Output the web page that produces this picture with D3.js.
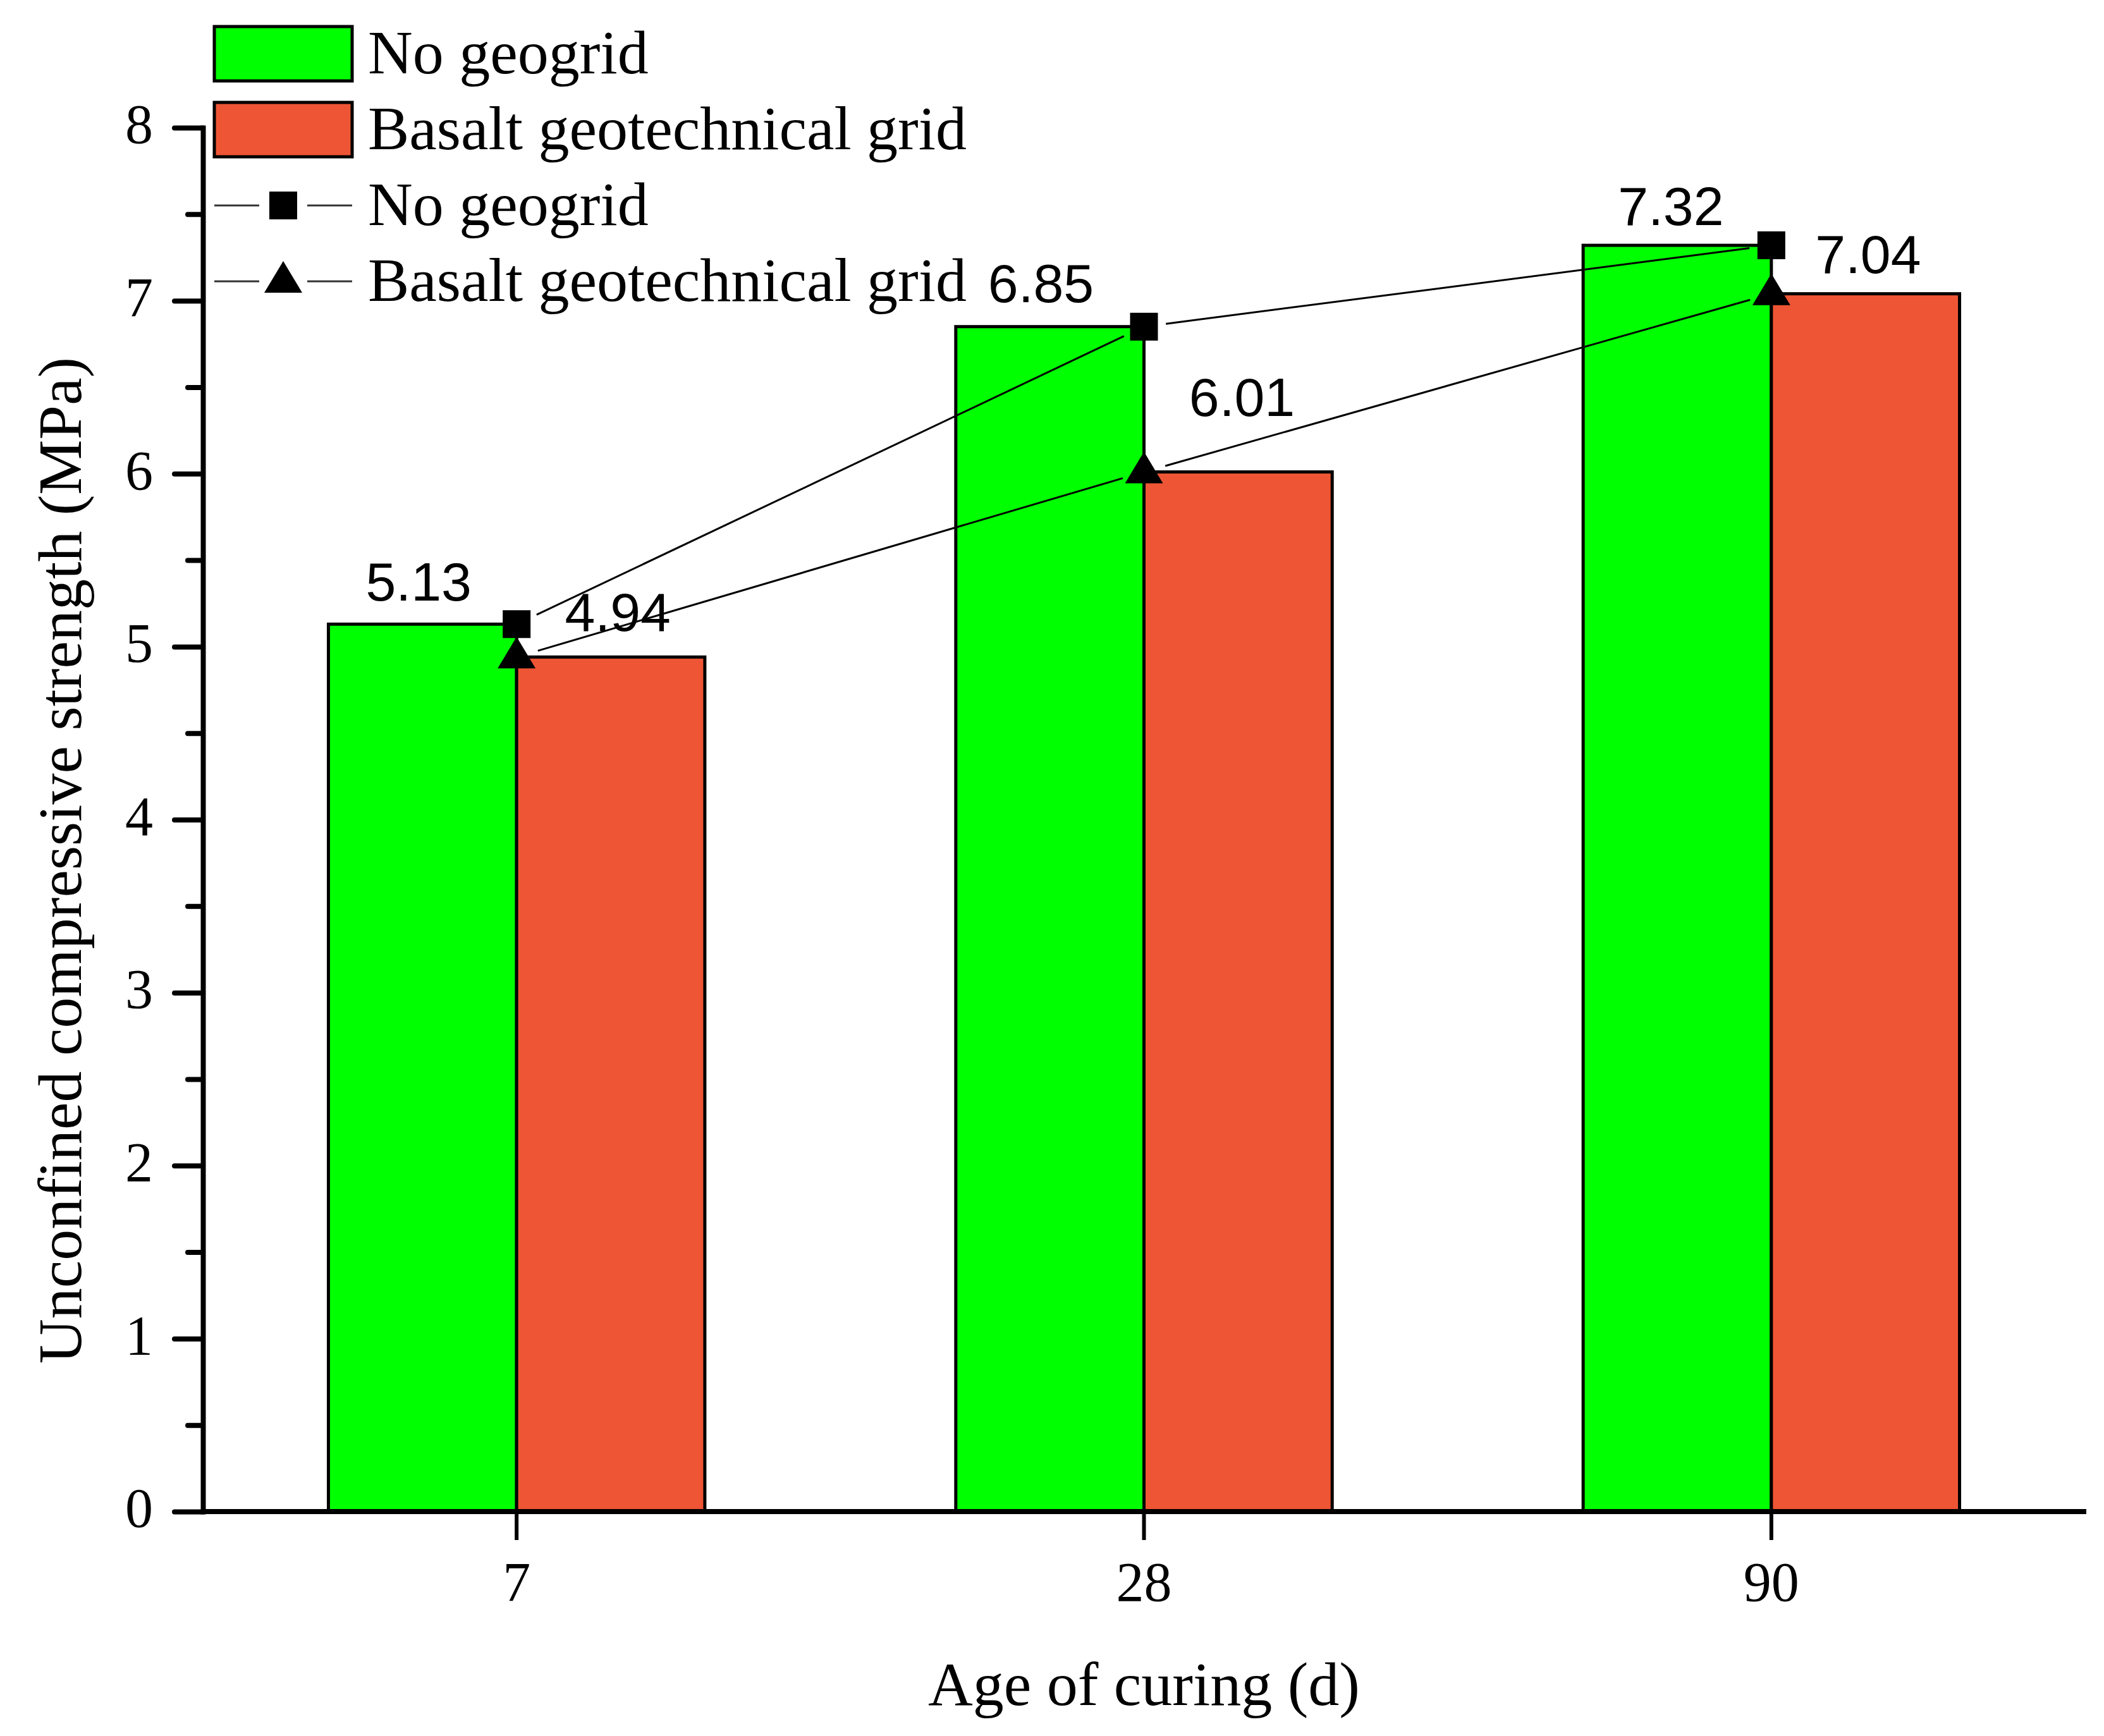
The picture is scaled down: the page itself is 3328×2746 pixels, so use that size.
<!DOCTYPE html>
<html>
<head>
<meta charset="utf-8">
<script src="https://cdn.jsdelivr.net/npm/d3@7"></script>
<style>
  body { margin: 0; background: #fff; }
  svg { display: block; }
</style>
</head>
<body>
<div id="chart"></div>
<script>
// data
var categories = ["7", "28", "90"];
var noGeogrid = [5.13, 6.85, 7.32];
var basaltGrid = [4.94, 6.01, 7.04];
var seriesNames = ["No geogrid", "Basalt geotechnical grid"];
var yMajorTicks = [0, 1, 2, 3, 4, 5, 6, 7, 8];

// label placement relative to the marker (layout only)
var labelShiftNG = [[-155, -37], [-163, -39], [-159, -32]];
var labelShiftBG = [[160, -41], [155, -89], [153, -33]];

var width = 3328, height = 2746;
var green = "#00ff00", red = "#ee5535";
var serif = "'Liberation Serif', 'Times New Roman', serif";
var sans = "'Liberation Sans', Arial, sans-serif";

var svg = d3.select("#chart").append("svg")
    .attr("width", width)
    .attr("height", height)
    .style("background", "#fff");

// scales
var x = d3.scaleBand()
    .domain(categories)
    .range([321, 3298])
    .paddingInner(0.4)
    .paddingOuter(0.2);

var y = d3.scaleLinear()
    .domain([0, 8])
    .range([2391, 202]);

var bw = x.bandwidth() / 2;
function cx(c) { return x(c) + x.bandwidth() / 2; }

// bars
var bars = svg.append("g");
bars.selectAll(".bar-ng")
    .data(categories)
    .enter().append("rect")
      .attr("x", function(d) { return x(d); })
      .attr("y", function(d, i) { return y(noGeogrid[i]); })
      .attr("width", bw)
      .attr("height", function(d, i) { return y(0) - y(noGeogrid[i]); })
      .attr("fill", green)
      .attr("stroke", "#000")
      .attr("stroke-width", 5);

bars.selectAll(".bar-bg")
    .data(categories)
    .enter().append("rect")
      .attr("x", function(d) { return cx(d); })
      .attr("y", function(d, i) { return y(basaltGrid[i]); })
      .attr("width", bw)
      .attr("height", function(d, i) { return y(0) - y(basaltGrid[i]); })
      .attr("fill", red)
      .attr("stroke", "#000")
      .attr("stroke-width", 5);

// y axis
var yTickValues = d3.range(0, 8.01, 0.5);
var yAxis = svg.append("g")
    .attr("transform", "translate(321,0)")
    .call(d3.axisLeft(y)
        .tickValues(yTickValues)
        .tickSize(45)
        .tickSizeOuter(0)
        .tickPadding(34)
        .tickFormat(function(d) { return yMajorTicks.indexOf(d) >= 0 ? d : ""; }));

yAxis.select(".domain").attr("stroke-width", 8).attr("stroke-linecap", "square");
yAxis.selectAll(".tick line")
    .attr("stroke-width", 8)
    .attr("stroke-linecap", "round")
    .attr("x2", function(d) { return yMajorTicks.indexOf(d) >= 0 ? -45 : -24; });
yAxis.selectAll(".tick text")
    .attr("dy", "0.27em")
    .style("font-family", serif)
    .style("font-size", "88px")
    .attr("fill", "#000");

// x axis
var xAxis = svg.append("g")
    .attr("transform", "translate(0," + y(0) + ")")
    .call(d3.axisBottom(x)
        .tickSize(45)
        .tickSizeOuter(0)
        .tickPadding(34));

xAxis.select(".domain")
    .attr("d", "M321,0H3300")
    .attr("stroke-width", 8);
xAxis.selectAll(".tick line").attr("stroke-width", 6);
xAxis.selectAll(".tick text")
    .style("font-family", serif)
    .style("font-size", "88px")
    .attr("fill", "#000");

// axis titles
svg.append("text")
    .attr("x", cx("28"))
    .attr("y", 2697)
    .attr("text-anchor", "middle")
    .style("font-family", serif)
    .style("font-size", "98px")
    .text("Age of curing (d)");

svg.append("text")
    .attr("transform", "translate(128,1361) rotate(-90)")
    .attr("text-anchor", "middle")
    .style("font-family", serif)
    .style("font-size", "98px")
    .text("Unconfined compressive strength (MPa)");

// connecting lines, trimmed near the markers
var gap = 35;
function drawSegments(values) {
    var pts = categories.map(function(c, i) { return [cx(c), y(values[i])]; });
    for (var i = 0; i < pts.length - 1; i++) {
        var a = pts[i], b = pts[i + 1];
        var dx = b[0] - a[0], dy = b[1] - a[1];
        var len = Math.sqrt(dx * dx + dy * dy);
        var ux = dx / len, uy = dy / len;
        svg.append("line")
            .attr("x1", a[0] + ux * gap).attr("y1", a[1] + uy * gap)
            .attr("x2", b[0] - ux * gap).attr("y2", b[1] - uy * gap)
            .attr("stroke", "#000")
            .attr("stroke-width", 3);
    }
}
drawSegments(noGeogrid);
drawSegments(basaltGrid);

var squarePath = "M-22,-22H22V22H-22Z";
var trianglePath = "M0,-32L30,18L-30,18Z";

svg.selectAll(".m-ng")
    .data(categories)
    .enter().append("path")
      .attr("d", squarePath)
      .attr("transform", function(d, i) { return "translate(" + cx(d) + "," + y(noGeogrid[i]) + ")"; })
      .attr("fill", "#000");

svg.selectAll(".m-bg")
    .data(categories)
    .enter().append("path")
      .attr("d", trianglePath)
      .attr("transform", function(d, i) { return "translate(" + cx(d) + "," + y(basaltGrid[i]) + ")"; })
      .attr("fill", "#000");

// value labels
function valueLabels(values, shift) {
    svg.append("g").selectAll("text")
        .data(values)
        .enter().append("text")
          .attr("x", function(d, i) { return cx(categories[i]) + shift[i][0]; })
          .attr("y", function(d, i) { return y(d) + shift[i][1]; })
          .attr("text-anchor", "middle")
          .style("font-family", sans)
          .style("font-size", "86px")
          .text(function(d) { return d.toFixed(2); });
}
valueLabels(noGeogrid, labelShiftNG);
valueLabels(basaltGrid, labelShiftBG);

// legend
var legend = svg.append("g");
var rowY = [85, 205, 325, 445];
var lx0 = 339, lx1 = 557, lmid = 448;

[green, red].forEach(function(col, i) {
    legend.append("rect")
        .attr("x", lx0).attr("y", rowY[i] - 43)
        .attr("width", lx1 - lx0).attr("height", 86)
        .attr("fill", col)
        .attr("stroke", "#000")
        .attr("stroke-width", 5);
});

[squarePath, trianglePath].forEach(function(p, i) {
    var ry = rowY[i + 2];
    legend.append("line")
        .attr("x1", lx0).attr("x2", 410).attr("y1", ry).attr("y2", ry)
        .attr("stroke", "#333").attr("stroke-width", 3);
    legend.append("line")
        .attr("x1", 486).attr("x2", lx1).attr("y1", ry).attr("y2", ry)
        .attr("stroke", "#333").attr("stroke-width", 3);
    legend.append("path")
        .attr("d", p)
        .attr("transform", "translate(" + lmid + "," + (ry + (i === 1 ? 0 : 0)) + ")")
        .attr("fill", "#000");
});

legend.selectAll("text")
    .data([seriesNames[0], seriesNames[1], seriesNames[0], seriesNames[1]])
    .enter().append("text")
      .attr("x", 582)
      .attr("y", function(d, i) { return rowY[i] + 31; })
      .style("font-family", serif)
      .style("font-size", "98px")
      .text(function(d) { return d; });
</script>
</body>
</html>
